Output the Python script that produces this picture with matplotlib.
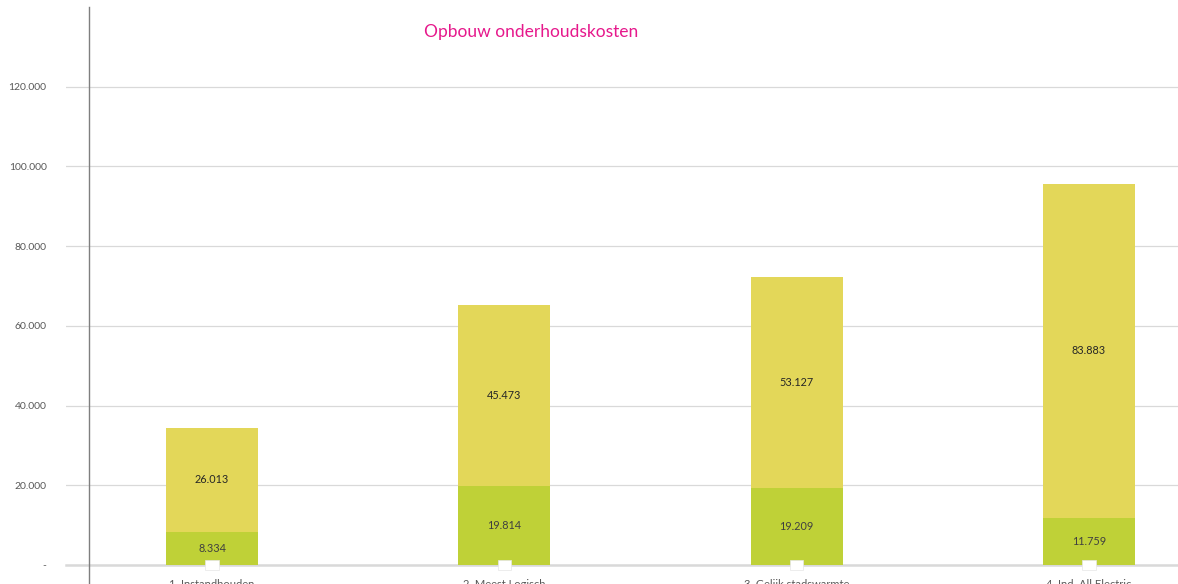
import matplotlib
matplotlib.use("Agg")
import matplotlib.pyplot as plt
from matplotlib.ticker import FuncFormatter

categories = ["1. Instandhouden", "2. Meest Logisch", "3. Gelijk stadswarmte", "4. Ind. All Electric"]
onderhoud_basis = [8334, 19814, 19209, 11759]
onderhoud_extra = [26013, 45473, 53127, 83883]
overig = [0, 0, 0, 0]

green = "#bfd137"
yellow = "#e3d759"
pink = "#e6198c"
grid_c = "#d9d9d9"
txt_c = "#595959"

plt.rcParams['font.family'] = ['Lato', 'DejaVu Sans']

fig = plt.figure(figsize=(11.78, 5.84), dpi=100)
W, H = 1178, 584
ax = fig.add_axes([66 / W, 1 - 565 / H, (1178 - 66) / W, (565 - 7) / H])

x = list(range(len(categories)))
width = 0.315
ax.bar(x, onderhoud_basis, width, color=green, zorder=3)
ax.bar(x, onderhoud_extra, width, bottom=onderhoud_basis, color=yellow, zorder=3)

def fmt(v, pos=None):
    if v == 0:
        return "-"
    return f"{int(round(v)):,}".replace(",", ".")

for i in x:
    ax.text(i, onderhoud_basis[i] / 2, fmt(onderhoud_basis[i]), ha="center", va="center",
            fontsize=7.8, color="#404040", zorder=4)
    ax.text(i, onderhoud_basis[i] + onderhoud_extra[i] / 2, fmt(onderhoud_extra[i]),
            ha="center", va="center", fontsize=7.8, color="#262626", zorder=4)
    ax.text(i, overig[i], "      ", ha="center", va="center", fontsize=5, zorder=4,
            bbox=dict(boxstyle="square,pad=0.2", fc="white", ec="#e6e6e6", lw=0.5))

ax.set_xlim(-0.5, 3.305)
ax.set_ylim(0, 140000)
ax.set_yticks(range(0, 140000, 20000))
ax.yaxis.set_major_formatter(FuncFormatter(fmt))
ax.grid(axis="y", color=grid_c, lw=0.9, zorder=0)
ax.set_axisbelow(True)
for s in ["left", "right", "top"]:
    ax.spines[s].set_visible(False)
ax.spines["bottom"].set_color("#d9d9d9")
ax.spines["bottom"].set_linewidth(1.8)
ax.tick_params(axis="y", length=0, labelsize=7.5, labelcolor=txt_c, pad=14)
ax.tick_params(axis="x", length=0, labelsize=8, labelcolor=txt_c, pad=10)
ax.set_xticks(x)
ax.set_xticklabels(categories)

ax.axvline(-0.42, ymin=-0.05, ymax=1.0, color="#7f7f7f", lw=1, clip_on=False, zorder=5)

fig.text(531 / W, 1 - 32 / H, "Opbouw onderhoudskosten", color=pink, fontsize=12.5,
         ha="center", va="center")

fig.savefig("out.png", dpi=100)
